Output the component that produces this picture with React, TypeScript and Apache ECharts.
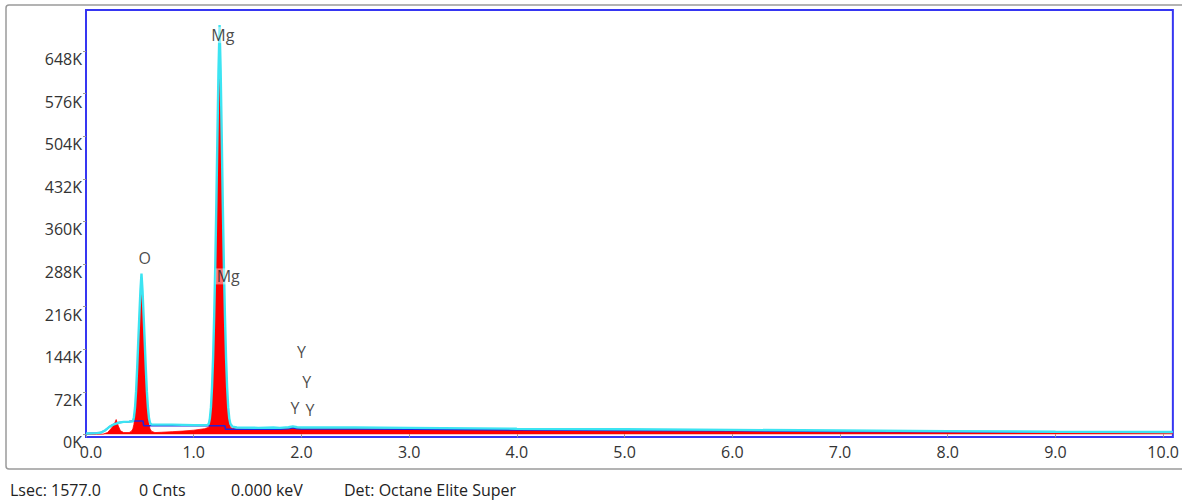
import React, { useEffect, useRef } from "react";
import * as echarts from "echarts";

// ---- Spectrum (measured counts), energy in keV
const redEnergy = [0, 0.1, 0.16, 0.2, 0.23, 0.26, 0.28, 0.3, 0.32, 0.35, 0.4, 0.42, 0.435, 0.445, 0.455, 0.465, 0.475, 0.485, 0.495, 0.505, 0.515, 0.525, 0.535, 0.545, 0.555, 0.565, 0.575, 0.585, 0.595, 0.61, 0.64, 0.7, 0.8, 0.9, 1.0, 1.1, 1.14, 1.15, 1.16, 1.17, 1.18, 1.19, 1.2, 1.21, 1.22, 1.23, 1.24, 1.25, 1.26, 1.27, 1.28, 1.29, 1.3, 1.31, 1.32, 1.33, 1.34, 1.36, 1.4, 1.6, 1.74, 1.8, 1.88, 1.92, 1.96, 2.0, 2.5, 3.0, 4.0, 5.0, 6.0, 7.0, 8.0, 9.0, 10.09];
const redCounts = [0, 0, 500, 3000, 9000, 16000, 25000, 14000, 6000, 3000, 3000, 5000, 9000, 17000, 34000, 62000, 100000, 145000, 188000, 228000, 260000, 228000, 188000, 145000, 100000, 62000, 34000, 17000, 9000, 5000, 3000, 3500, 4500, 5500, 7000, 9500, 12000, 20000, 38000, 68000, 115000, 180000, 260000, 360000, 470000, 575000, 655000, 575000, 470000, 360000, 260000, 180000, 115000, 68000, 38000, 20000, 12000, 10000, 9000, 8500, 9500, 8500, 10000, 12500, 10000, 9500, 9500, 9000, 7500, 6500, 5500, 4500, 3500, 2500, 2000];

// ---- Fit (cyan)
const fitEnergy = [0, 0.1, 0.14, 0.18, 0.22, 0.26, 0.3, 0.35, 0.4, 0.435, 0.445, 0.455, 0.465, 0.475, 0.485, 0.495, 0.505, 0.515, 0.525, 0.535, 0.545, 0.555, 0.565, 0.575, 0.585, 0.595, 0.61, 0.7, 0.8, 0.9, 1.0, 1.1, 1.13, 1.14, 1.15, 1.16, 1.17, 1.18, 1.19, 1.2, 1.21, 1.22, 1.23, 1.24, 1.25, 1.26, 1.27, 1.28, 1.29, 1.3, 1.31, 1.32, 1.33, 1.34, 1.36, 1.4, 1.6, 1.74, 1.8, 1.88, 1.92, 1.96, 2.0, 2.5, 3.0, 4.0, 5.0, 6.0, 7.0, 8.0, 9.0, 10.09];
const fitCounts = [1500, 2000, 3000, 7000, 13000, 17000, 19500, 21000, 21500, 22000, 29000, 45000, 73000, 112000, 157000, 200000, 242000, 272000, 242000, 200000, 157000, 112000, 73000, 45000, 27000, 19000, 16500, 16500, 16500, 16000, 15500, 15500, 16000, 18000, 27000, 46000, 80000, 130000, 200000, 285000, 390000, 505000, 615000, 692000, 615000, 505000, 390000, 285000, 200000, 130000, 80000, 46000, 27000, 18000, 13000, 11500, 11000, 11500, 11000, 12000, 13500, 12000, 11500, 11500, 11000, 9500, 8500, 7500, 6500, 5500, 4500, 4000];

// ---- Background (blue)
const bgEnergy = [0, 0.1, 0.14, 0.18, 0.22, 0.26, 0.3, 0.35, 0.4, 0.45, 0.53, 0.535, 1.29, 1.295, 1.6, 1.74, 1.8, 1.88, 1.92, 1.96, 2.0, 2.5, 3.0, 4.0, 5.0, 6.0, 7.0, 8.0, 9.0, 10.09];
const bgCounts = [1500, 2000, 3000, 7000, 13000, 17000, 19500, 21000, 21500, 22500, 22500, 14500, 14500, 8500, 8500, 9000, 8500, 9500, 11000, 9500, 9000, 9000, 8500, 7500, 6500, 6000, 5000, 4500, 4000, 3500];

// ---- Element labels
const elementNames = ["Mg", "O", "Mg", "Y", "Y", "Y", "Y"];
const elementEnergy = [1.27, 0.545, 1.32, 2.0, 2.05, 1.94, 2.08];
const elementHeight = [675000, 298000, 267000, 139000, 88000, 44500, 41000];

// ---- Axes
const xTicks = [0, 1, 2, 3, 4, 5, 6, 7, 8, 9, 10];
const yTicks = [0, 72000, 144000, 216000, 288000, 360000, 432000, 504000, 576000, 648000];

// ---- Status bar
const statusTexts = ["Lsec: 1577.0", "0 Cnts", "0.000 keV", "Det: Octane Elite Super"];
const statusX = [10, 139, 231, 344];

const zip = (a: number[], b: number[]) => a.map((v, i) => [v, b[i]]);

export default function App() {
  const ref = useRef<HTMLDivElement>(null);
  useEffect(() => {
    document.body.style.margin = "0";
    const chart = echarts.init(ref.current!, undefined, { renderer: "svg" });
    const font = "'Open Sans', 'Noto Sans', sans-serif";
    chart.setOption({
      animation: false,
      backgroundColor: "#ffffff",
      grid: {
        left: 86,
        top: 10,
        width: 1093,
        height: 427,
        show: true,
        borderColor: "#3636f2",
        borderWidth: 2,
        backgroundColor: "transparent",
      },
      xAxis: {
        type: "value",
        min: 0,
        max: 10.09,
        axisLine: { show: false },
        splitLine: { show: false },
        axisTick: { show: true, length: 3, customValues: xTicks, lineStyle: { color: "#999" } },
        axisLabel: {
          customValues: xTicks,
          formatter: (v: number) => (v === 0 ? "{first|0.0}" : v.toFixed(1)),
          color: "#333",
          fontSize: 16,
          fontFamily: font,
          margin: 7,
          rich: {
            first: { padding: [0, 0, 0, 10], color: "#333", fontSize: 16, fontFamily: font },
          },
        },
      },
      yAxis: {
        type: "value",
        min: -4500,
        max: 717400,
        axisLine: { show: false },
        splitLine: { show: false },
        axisTick: { show: true, length: 3, customValues: yTicks, lineStyle: { color: "#999" } },
        axisLabel: {
          customValues: yTicks,
          formatter: (v: number) => Math.round(v / 1000) + "K",
          color: "#333",
          fontSize: 16,
          fontFamily: font,
          margin: 4,
          verticalAlign: "top",
        },
      },
      graphic: [
        {
          type: "rect",
          z: -10,
          shape: { x: 6, y: 5, width: 1200, height: 464, r: 3 },
          style: { fill: "none", stroke: "#9a9a9a", lineWidth: 1.5 },
        },
        ...statusTexts.map((t, i) => ({
          type: "text",
          x: statusX[i],
          y: 490,
          style: { text: t, fontSize: 16, fontFamily: font, fill: "#222", verticalAlign: "middle" },
        })),
      ],
      series: [
        {
          type: "line",
          data: zip(redEnergy, redCounts),
          symbol: "none",
          lineStyle: { color: "#ff0000", width: 0.8 },
          areaStyle: { color: "#ff0000", opacity: 1 },
          z: 1,
        },
        {
          type: "line",
          data: zip(bgEnergy, bgCounts),
          symbol: "none",
          lineStyle: { color: "#2323d8", width: 1.6 },
          z: 2,
        },
        {
          type: "line",
          data: zip(fitEnergy, fitCounts),
          symbol: "none",
          lineStyle: { color: "#3ce4f2", width: 2.4 },
          z: 3,
        },
        {
          type: "scatter",
          z: 5,
          symbolSize: 1,
          itemStyle: { color: "rgba(0,0,0,0)" },
          data: elementNames.map((n, i) => ({
            value: [elementEnergy[i], elementHeight[i]],
            name: n,
          })),
          label: {
            show: true,
            position: "inside",
            formatter: (p: any) => p.name,
            color: "#1a1a1a",
            fontSize: 16,
            fontFamily: font,
            backgroundColor: "rgba(255,255,255,0.55)",
            padding: [0, 1],
          },
        },
      ],
    });
    return () => chart.dispose();
  }, []);
  return <div ref={ref} style={{ position: "absolute", left: 0, top: 0, width: 1182, height: 501 }} />;
}
